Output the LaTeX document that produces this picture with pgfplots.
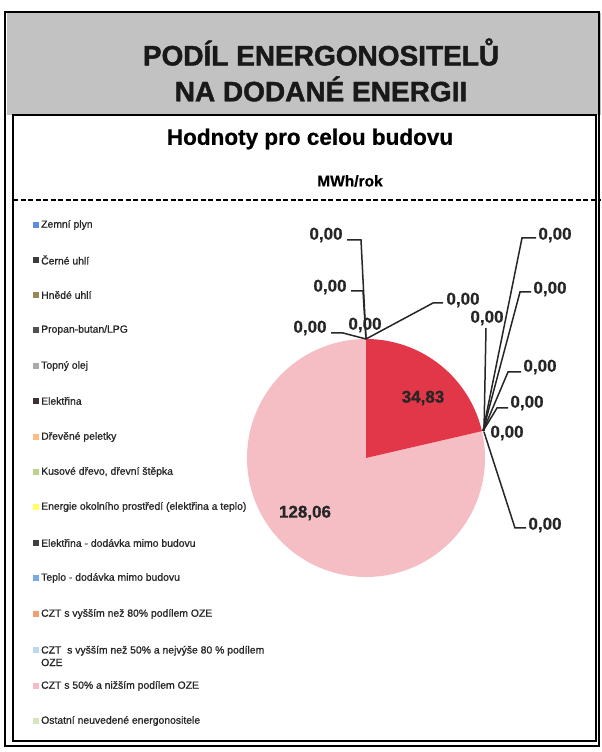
\documentclass[border=0pt]{standalone}
\usepackage{pgfplots}
\pgfplotsset{compat=1.18}
\usepackage{fontspec}
\setmainfont{Liberation Sans}
\newfontface\titlefont[FakeBold=1.6]{Liberation Sans Bold}
\newfontface\boldish[FakeBold=0.6]{Liberation Sans Bold}
\newfontface\legfont[FakeBold=0.9]{Liberation Sans}
\definecolor{hdrgray}{RGB}{194,194,194}
\definecolor{slicered}{RGB}{225,55,72}
\definecolor{slicepink}{RGB}{245,190,197}
\definecolor{cA}{RGB}{90,140,225}
\definecolor{cB}{RGB}{60,60,60}
\definecolor{cC}{RGB}{150,138,84}
\definecolor{cD}{RGB}{80,80,80}
\definecolor{cE}{RGB}{170,170,170}
\definecolor{cF}{RGB}{60,50,52}
\definecolor{cG}{RGB}{250,190,130}
\definecolor{cH}{RGB}{190,210,140}
\definecolor{cI}{RGB}{255,255,100}
\definecolor{cJ}{RGB}{64,64,64}
\definecolor{cK}{RGB}{120,170,230}
\definecolor{cL}{RGB}{240,160,110}
\definecolor{cM}{RGB}{190,215,240}
\definecolor{cN}{RGB}{245,185,200}
\definecolor{cO}{RGB}{215,228,190}
% values of the two non-zero slices (MWh/rok)
\pgfmathsetmacro{\vA}{34.83}
\pgfmathsetmacro{\vB}{128.06}
\pgfmathsetmacro{\tot}{\vA+\vB}
\pgfmathsetmacro{\aEnd}{90-360*\vA/\tot}
\begin{document}
\begin{tikzpicture}
\begin{axis}[scale only axis, width=601pt, height=752pt,
  xmin=0, xmax=601, ymin=0, ymax=752, hide axis, clip=false]
% background and frame
\fill[white] (axis cs:0,0) rectangle (axis cs:601,752);
\fill[hdrgray] (axis cs:7,637) rectangle (axis cs:601,739);
\draw[line width=2.8pt, black] (axis cs:5,6) rectangle (axis cs:599,740);
\draw[line width=1.5pt, black, fill=white] (axis cs:13,11) rectangle (axis cs:596,637);
\draw[line width=1.8pt, black, dash pattern=on 5pt off 2.5pt] (axis cs:13,552) -- (axis cs:601,552);
% titles
\node[font=\titlefont\fontsize{28}{30}\selectfont, text=black!90] at (axis cs:321,700) {PODÍL ENERGONOSITELŮ};
\node[font=\titlefont\fontsize{28}{30}\selectfont, text=black!90] at (axis cs:321,663) {NA DODANÉ ENERGII};
\node[font=\boldish\fontsize{22.5}{24}\selectfont] at (axis cs:310,613) {Hodnoty pro celou budovu};
\node[font=\boldish\fontsize{15.5}{17}\selectfont] at (axis cs:350,571) {MWh/rok};
% pie
\addplot[fill=slicepink, draw=none, domain=-270:\aEnd, samples=180]
  ({366+119*cos(x)},{294+119*sin(x)}) -- (axis cs:366,294) -- cycle;
\addplot[fill=slicered, draw=none, domain=\aEnd:90, samples=60]
  ({366+119*cos(x)},{294+119*sin(x)}) -- (axis cs:366,294) -- cycle;
% leader lines
\tikzset{ll/.style={line width=1.5pt, black!85}}
\draw[ll] (axis cs:347,512) -- (axis cs:361,512) -- (axis cs:366,413);
\draw[ll] (axis cs:351,461) -- (axis cs:363,461) -- (axis cs:366,413);
\draw[ll] (axis cs:331,419) -- (axis cs:343,419) -- (axis cs:366,413);
\draw[ll] (axis cs:443,449) -- (axis cs:433,449) -- (axis cs:366,413);
\draw[ll] (axis cs:536,514) -- (axis cs:522,514) -- (axis cs:483,321);
\draw[ll] (axis cs:531,460) -- (axis cs:520,460) -- (axis cs:483,321);
\draw[ll] (axis cs:486,424) -- (axis cs:484,321);
\draw[ll] (axis cs:521,380) -- (axis cs:508,380) -- (axis cs:483,321);
\draw[ll] (axis cs:508,344) -- (axis cs:497,344) -- (axis cs:483,321);
\draw[ll] (axis cs:526,224) -- (axis cs:515,224) -- (axis cs:484,320);
% data labels
\tikzset{dl/.style={font=\boldish\fontsize{17}{18}\selectfont, text=black!85, inner sep=0pt}}
\node[dl] at (axis cs:326,517) {0,00};
\node[dl] at (axis cs:330,465) {0,00};
\node[dl] at (axis cs:310,424) {0,00};
\node[dl] at (axis cs:365,427) {0,00};
\node[dl] at (axis cs:463,452) {0,00};
\node[dl] at (axis cs:555,517) {0,00};
\node[dl] at (axis cs:550,463) {0,00};
\node[dl] at (axis cs:487,434) {0,00};
\node[dl] at (axis cs:540,385) {0,00};
\node[dl] at (axis cs:527,349) {0,00};
\node[dl] at (axis cs:507,319) {0,00};
\node[dl] at (axis cs:545,227) {0,00};
\node[dl] at (axis cs:423,354) {34,83};
\node[dl] at (axis cs:305,239) {128,06};
% legend
\tikzset{lt/.style={font=\legfont\fontsize{10.4}{12.5}\selectfont, text=black!85, anchor=west, inner sep=0pt, align=left},
  sw/.style={inner sep=0pt, minimum size=5.5pt}}
\node[sw, fill=cA] at (axis cs:36,527) {}; \node[lt] at (axis cs:41,527) {Zemní plyn};
\node[sw, fill=cB] at (axis cs:36,492) {}; \node[lt] at (axis cs:41,492) {Černé uhlí};
\node[sw, fill=cC] at (axis cs:36,457) {}; \node[lt] at (axis cs:41,457) {Hnědé uhlí};
\node[sw, fill=cD] at (axis cs:36,422) {}; \node[lt] at (axis cs:41,422) {Propan-butan/LPG};
\node[sw, fill=cE] at (axis cs:36,386) {}; \node[lt] at (axis cs:41,386) {Topný olej};
\node[sw, fill=cF] at (axis cs:36,351) {}; \node[lt] at (axis cs:41,351) {Elektřina};
\node[sw, fill=cG] at (axis cs:36,315) {}; \node[lt] at (axis cs:41,315) {Dřevěné peletky};
\node[sw, fill=cH] at (axis cs:36,280) {}; \node[lt] at (axis cs:41,280) {Kusové dřevo, dřevní štěpka};
\node[sw, fill=cI] at (axis cs:36,245) {}; \node[lt] at (axis cs:41,245) {Energie okolního prostředí (elektřina a teplo)};
\node[sw, fill=cJ] at (axis cs:36,209) {}; \node[lt] at (axis cs:41,209) {Elektřina - dodávka mimo budovu};
\node[sw, fill=cK] at (axis cs:36,174) {}; \node[lt] at (axis cs:41,174) {Teplo - dodávka mimo budovu};
\node[sw, fill=cL] at (axis cs:36,138) {}; \node[lt] at (axis cs:41,138) {CZT s vyšším než 80\% podílem OZE};
\node[sw, fill=cM] at (axis cs:36,102) {}; \node[lt] at (axis cs:41,96) {CZT \ s vyšším než 50\% a nejvýše 80 \% podílem\\OZE};
\node[sw, fill=cN] at (axis cs:36,66) {}; \node[lt] at (axis cs:41,66) {CZT s 50\% a nižším podílem OZE};
\node[sw, fill=cO] at (axis cs:36,31) {}; \node[lt] at (axis cs:41,31) {Ostatní neuvedené energonositele};
\end{axis}
\end{tikzpicture}
\end{document}
